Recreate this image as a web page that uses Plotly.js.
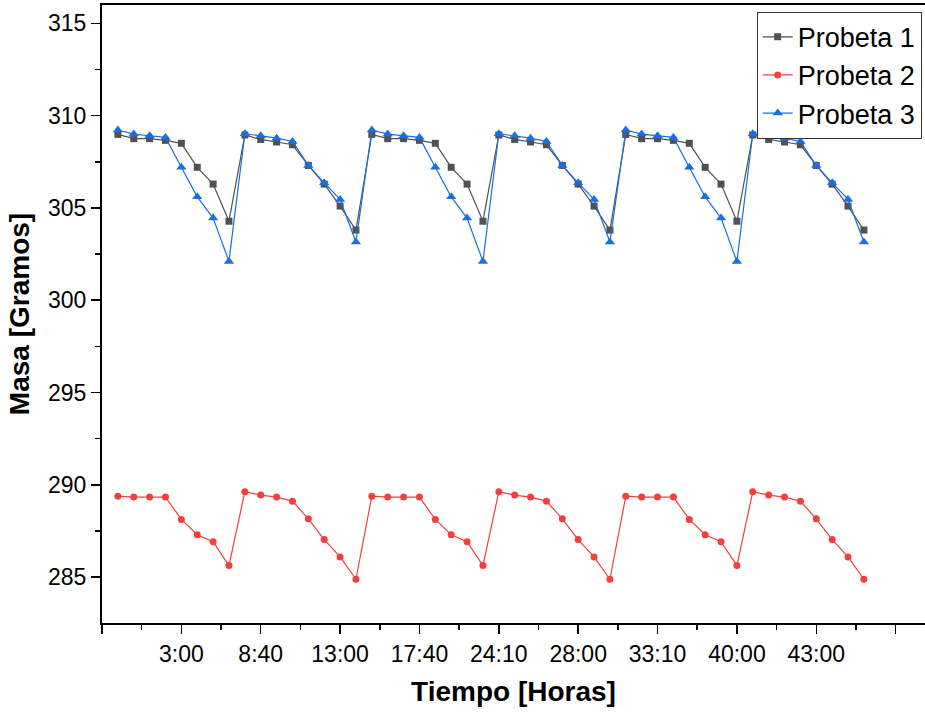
<!DOCTYPE html>
<html>
<head>
<meta charset="utf-8">
<script src="https://cdn.plot.ly/plotly-3.0.1.min.js"></script>
<style>html,body{margin:0;padding:0;background:#fff;}#chart{width:925px;height:715px;}</style>
</head>
<body>
<div id="chart"></div>
<script>
// Sample index (x position of each measurement)
const muestra = [1,2,3,4,5,6,7,8,9,10,11,12,13,14,15,16,17,18,19,20,21,22,23,24,
                 25,26,27,28,29,30,31,32,33,34,35,36,37,38,39,40,41,42,43,44,45,46,47,48];

// Tick positions and labels on the time axis
const tickPos = [0,5,10,15,20,25,30,35,40,45,50];
const tickLabels = ["","3:00","8:40","13:00","17:40","24:10","28:00","33:10","40:00","43:00",""];

// Mass readings [g]
const probeta1 = [
  308.98,308.75,308.75,308.66,308.50,307.20,306.29,304.28,
  308.95,308.71,308.57,308.42,307.30,306.29,305.10,303.80,
  308.98,308.75,308.75,308.66,308.50,307.20,306.29,304.28,
  308.95,308.71,308.57,308.42,307.30,306.29,305.10,303.80,
  308.98,308.75,308.75,308.66,308.50,307.20,306.29,304.28,
  308.95,308.71,308.57,308.42,307.30,306.29,305.10,303.80
];
const probeta2 = [
  289.39,289.34,289.34,289.34,288.13,287.30,286.92,285.63,
  289.63,289.45,289.34,289.12,288.16,287.04,286.10,284.89,
  289.39,289.34,289.34,289.34,288.13,287.30,286.92,285.63,
  289.63,289.45,289.34,289.12,288.16,287.04,286.10,284.89,
  289.39,289.34,289.34,289.34,288.13,287.30,286.92,285.63,
  289.63,289.45,289.34,289.12,288.16,287.04,286.10,284.89
];
const probeta3 = [
  309.22,309.00,308.91,308.82,307.20,305.60,304.45,302.10,
  309.02,308.91,308.78,308.60,307.30,306.36,305.46,303.15,
  309.22,309.00,308.91,308.82,307.20,305.60,304.45,302.10,
  309.02,308.91,308.78,308.60,307.30,306.36,305.46,303.15,
  309.22,309.00,308.91,308.82,307.20,305.60,304.45,302.10,
  309.02,308.91,308.78,308.60,307.30,306.36,305.46,303.15
];

const seriesNames = ["Probeta 1","Probeta 2","Probeta 3"];
const colors = ["#515151","#F14040","#1A6FDF"];
const symbols = ["square","circle","triangle-up"];
const sizes = [7,7,9];
const values = [probeta1, probeta2, probeta3];

const traces = values.map((v,i)=>({
  x: muestra, y: v, name: seriesNames[i], type: "scatter", mode: "lines+markers",
  line: {color: colors[i], width: 1.2},
  marker: {color: colors[i], symbol: symbols[i], size: sizes[i]}
}));

const FONT = "Liberation Sans, Arial, sans-serif";
const layout = {
  width: 925, height: 715,
  margin: {l: 102, r: 0, t: 5, b: 92, pad: 0},
  paper_bgcolor: "#fff", plot_bgcolor: "#fff",
  font: {family: FONT, color: "#000"},
  showlegend: true,
  legend: {
    x: 0.996, xanchor: "right", y: 0.989, yanchor: "top",
    bordercolor: "#333", borderwidth: 1, bgcolor: "rgba(255,255,255,1)",
    font: {family: FONT, size: 27, color: "#000"},
    tracegroupgap: 0
  },
  xaxis: {
    range: [0, 51.85], showgrid: false, zeroline: false,
    showline: true, linecolor: "#000", linewidth: 2, mirror: true,
    tickmode: "array", tickvals: tickPos, ticktext: tickLabels,
    ticks: "outside", ticklen: 9, tickwidth: 1.5, tickcolor: "#000",
    tickfont: {family: FONT, size: 23, color: "#000"},
    minor: {dtick: 2.5, tick0: 0, ticks: "outside", ticklen: 5, tickwidth: 1.5, tickcolor: "#000", showgrid: false},
    title: {text: "<b>Tiempo [Horas]</b>", font: {family: FONT, size: 28, color: "#000"}, standoff: 16}
  },
  yaxis: {
    range: [282.52, 315.99], showgrid: false, zeroline: false,
    showline: true, linecolor: "#000", linewidth: 2, mirror: false,
    tickmode: "array", tickvals: [285,290,295,300,305,310,315],
    ticks: "outside", ticklen: 9, tickwidth: 1.5, tickcolor: "#000",
    tickfont: {family: FONT, size: 23, color: "#000"},
    minor: {dtick: 2.5, tick0: 285, ticks: "outside", ticklen: 5, tickwidth: 1.5, tickcolor: "#000", showgrid: false},
    title: {text: "<b>Masa [Gramos]</b>", font: {family: FONT, size: 28, color: "#000"}, standoff: 10}
  }
};

Plotly.newPlot("chart", traces, layout, {staticPlot: true, displayModeBar: false});
</script>
</body>
</html>
